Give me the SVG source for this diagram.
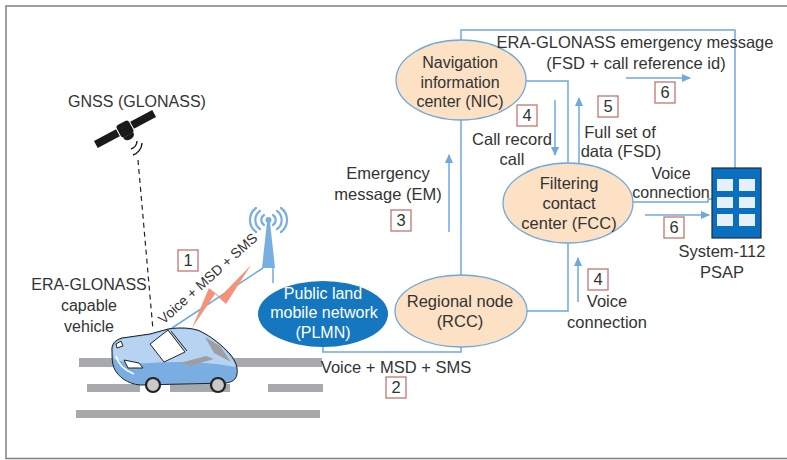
<svg xmlns="http://www.w3.org/2000/svg" width="787" height="460" viewBox="0 0 787 460">
  <style>
    .t { font-family: "Liberation Sans", Arial, sans-serif; font-size: 16.5px; fill: #333; text-anchor: middle; }
    .s15 { font-size: 16px; }
    .w { fill: #ffffff; }
    .node { fill: #fce1c4; stroke: #6fa8dc; stroke-width: 1.3; }
    .link { fill: none; stroke: #6fa8dc; stroke-width: 1.5; }
    .arrow { fill: none; stroke: #6fa8dc; stroke-width: 1.5; marker-end: url(#ah); }
    .step { fill: #ffffff; stroke: #c27772; stroke-width: 1.3; }
    .road { fill: #a7a9ac; }
    .ink { stroke: #222; stroke-width: 1; stroke-linejoin: round; }
  </style>
  <defs>
    <marker id="ah" markerWidth="9" markerHeight="8" refX="8" refY="4" orient="auto" markerUnits="userSpaceOnUse">
      <path d="M0,0 L9,4 L0,8 Z" fill="#6fa8dc"/>
    </marker>
  </defs>

  <!-- outer frame -->
  <rect x="6" y="6" width="800" height="452.5" fill="#ffffff" stroke="#808080" stroke-width="1.5"/>

  <!-- road -->
  <g id="road">
    <rect class="road" x="79" y="358" width="243" height="9"/>
    <rect class="road" x="87" y="384" width="53" height="8"/>
    <rect class="road" x="170" y="384" width="60" height="8"/>
    <rect class="road" x="268" y="384" width="55" height="8"/>
    <rect class="road" x="76" y="410" width="244" height="8"/>
  </g>

  <!-- connectors -->
  <g id="connectors">
    <path class="link" d="M273,268 V283"/>
    <path class="link" d="M323,347 V352 H461 V347"/>
    <path class="link" d="M461,275 V120"/>
    <path class="link" d="M527,311 H568 V243"/>
    <path class="link" d="M526,81 H568 V163"/>
    <path class="link" d="M461,40 V30 H735 V168"/>
    <path class="link" d="M633,202 H708 V199 H712"/>
    <path class="link" d="M172,328 L263,268" stroke-width="1.2"/>
    <path d="M138,160 L153,330" fill="none" stroke="#222" stroke-width="1.2" stroke-dasharray="5,4"/>
    <polygon points="251,265 226,304 215,294 192,328 209,288 220,297" fill="#f4937a"/>
    <path class="arrow" d="M449,232 V155"/>
    <path class="arrow" d="M555,100 V155"/>
    <path class="arrow" d="M579,163 V98"/>
    <path class="arrow" d="M578,302 V258"/>
    <path class="arrow" d="M626,78 H690"/>
    <path class="arrow" d="M645,215 H709"/>
  </g>

  <!-- satellite -->
  <g id="satellite">
    <g transform="translate(125,129) rotate(-28)">
      <rect x="-33" y="-4" width="25" height="8" fill="#1a1a1a"/>
      <rect x="8" y="-4" width="25" height="8" fill="#1a1a1a"/>
      <rect x="-7" y="-7" width="14" height="14" rx="3" fill="#1a1a1a"/>
      <path d="M-5,7.5 A5,3.5 0 0 0 5,7.5 Z" fill="#1a1a1a" stroke="#1a1a1a" stroke-width="1.5"/>
    </g>
    <path d="M137,141 A9,9 0 0 1 131,149" fill="none" stroke="#1a1a1a" stroke-width="1.4"/>
    <path d="M142,143 A13,13 0 0 1 133,155" fill="none" stroke="#1a1a1a" stroke-width="1.4"/>
    <text class="t s15" x="137" y="107">GNSS (GLONASS)</text>
  </g>

  <!-- radio tower -->
  <g id="tower">
    <polygon points="267,222 270,222 275,268 262,268" fill="#78aee0"/>
    <circle cx="268.5" cy="220" r="3" fill="#78aee0"/>
    <g fill="none" stroke="#78aee0" stroke-width="2.2" stroke-linecap="round">
      <path d="M264,215 A6,6 0 0 0 264,225"/>
      <path d="M273,215 A6,6 0 0 1 273,225"/>
      <path d="M260,211 A11,11 0 0 0 260,229"/>
      <path d="M277,211 A11,11 0 0 1 277,229"/>
      <path d="M256,208 A15,15 0 0 0 256,232"/>
      <path d="M281,208 A15,15 0 0 1 281,232"/>
    </g>
  </g>

  <!-- vehicle -->
  <g id="vehicle">
    <path class="ink" d="M112,352 C111,344 115,340 122,338 L150,334 L168,329 C180,327 193,328 200,331 C212,337 222,345 230,354 C236,361 238,368 237,374 C236,380 232,382 226,383 L140,385 C128,384 118,377 114,368 C112,363 112,357 112,352 Z" fill="#7aaee2"/>
    <path d="M113,352 C113,345 116,341 122,339 L150,335 L168,330 C180,328 193,329 200,332 C212,338 222,346 229,355 C233,360 235,364 236,367 C210,362 180,361 150,363 C135,364 122,362 114,359 Z" fill="#b6d4f1"/>
    <polygon class="ink" points="150,344 168,330 185,352 164,362" fill="#ffffff"/>
    <path d="M171,331 L187,351" stroke="#222" stroke-width="1" fill="none"/>
    <polygon points="205,337 220,346 231,362 214,353" fill="#9c9ea2"/>
    <polygon points="180,363 206,356 214,359 190,366" fill="#9c9ea2"/>
    <polygon class="ink" points="124,360 139,363 143,368 128,368" fill="#ffffff"/>
    <path class="ink" d="M116,344 L121,341 L123,346 L117,348 Z" fill="#ffffff"/>
    <path d="M116,356 C118,364 124,370 134,374" fill="none" stroke="#ffffff" stroke-width="1.5"/>
    <circle cx="153" cy="385" r="7" fill="#c9c9c9" stroke="#222" stroke-width="2.2"/>
    <circle cx="218" cy="385" r="7" fill="#c9c9c9" stroke="#222" stroke-width="2.2"/>
    <text class="t s15" x="89" y="290">ERA-GLONASS</text>
    <text class="t s15" x="89" y="311">capable</text>
    <text class="t s15" x="89" y="332">vehicle</text>
    <text class="t" transform="translate(211,282) rotate(-42)" x="0" y="0" style="font-size:14px">Voice + MSD + SMS</text>
  </g>

  <!-- PLMN -->
  <g id="plmn">
    <ellipse cx="323" cy="314" rx="65" ry="33" fill="#1577bf"/>
    <text class="t s15 w" x="323" y="299">Public land</text>
    <text class="t s15 w" x="324" y="318">mobile network</text>
    <text class="t s15 w" x="323" y="338">(PLMN)</text>
  </g>

  <!-- Regional node -->
  <g id="rcc">
    <ellipse class="node" cx="461" cy="311" rx="66" ry="36"/>
    <text class="t" x="460" y="307">Regional node</text>
    <text class="t" x="460" y="327">(RCC)</text>
  </g>

  <!-- Navigation information center -->
  <g id="nic">
    <ellipse class="node" cx="461" cy="80" rx="65" ry="40"/>
    <text class="t s15" x="460" y="68">Navigation</text>
    <text class="t s15" x="460" y="88">information</text>
    <text class="t s15" x="460" y="107">center (NIC)</text>
  </g>

  <!-- Filtering contact center -->
  <g id="fcc">
    <ellipse class="node" cx="568" cy="203" rx="65" ry="40"/>
    <text class="t" x="569" y="189">Filtering</text>
    <text class="t" x="569" y="209">contact</text>
    <text class="t" x="569" y="229">center (FCC)</text>
  </g>

  <!-- System-112 PSAP -->
  <g id="psap">
    <rect x="712" y="168" width="49" height="70" fill="#0a6fbf" stroke="#1c2c3c" stroke-width="1.2"/>
    <g fill="#e6f0fa">
      <rect x="717" y="179" width="16" height="12"/>
      <rect x="739" y="179" width="16" height="12"/>
      <rect x="717" y="197" width="16" height="11"/>
      <rect x="739" y="197" width="16" height="11"/>
      <rect x="717" y="214" width="16" height="12"/>
      <rect x="739" y="214" width="16" height="12"/>
    </g>
    <text class="t" x="722" y="257">System-112</text>
    <text class="t" x="722" y="278">PSAP</text>
  </g>

  <!-- flow labels -->
  <g id="labels">
    <text class="t" x="396" y="373">Voice + MSD + SMS</text>
    <text class="t" x="388" y="179">Emergency</text>
    <text class="t" x="388" y="200">message (EM)</text>
    <text class="t" x="512" y="145">Call record</text>
    <text class="t" x="512" y="165">call</text>
    <text class="t" x="620" y="138">Full set of</text>
    <text class="t" x="621" y="157">data (FSD)</text>
    <text class="t s15" x="671" y="179">Voice</text>
    <text class="t s15" x="671" y="198">connection</text>
    <text class="t" x="607" y="307">Voice</text>
    <text class="t" x="607" y="328">connection</text>
    <text class="t" x="635" y="48">ERA-GLONASS emergency message</text>
    <text class="t" x="636" y="69">(FSD + call reference id)</text>
  </g>

  <!-- step numbers -->
  <g id="steps">
    <rect class="step" x="178" y="250" width="20" height="21"/>
    <text class="t" x="188" y="266">1</text>
    <rect class="step" x="386" y="377" width="20" height="21"/>
    <text class="t" x="396" y="393">2</text>
    <rect class="step" x="391" y="210" width="20" height="21"/>
    <text class="t" x="401" y="226">3</text>
    <rect class="step" x="517" y="105" width="20" height="21"/>
    <text class="t" x="527" y="121">4</text>
    <rect class="step" x="598" y="96" width="20" height="21"/>
    <text class="t" x="608" y="112">5</text>
    <rect class="step" x="655" y="82" width="20" height="21"/>
    <text class="t" x="665" y="98">6</text>
    <rect class="step" x="664" y="217" width="20" height="21"/>
    <text class="t" x="674" y="233">6</text>
    <rect class="step" x="588" y="269" width="20" height="21"/>
    <text class="t" x="598" y="285">4</text>
  </g>
</svg>
